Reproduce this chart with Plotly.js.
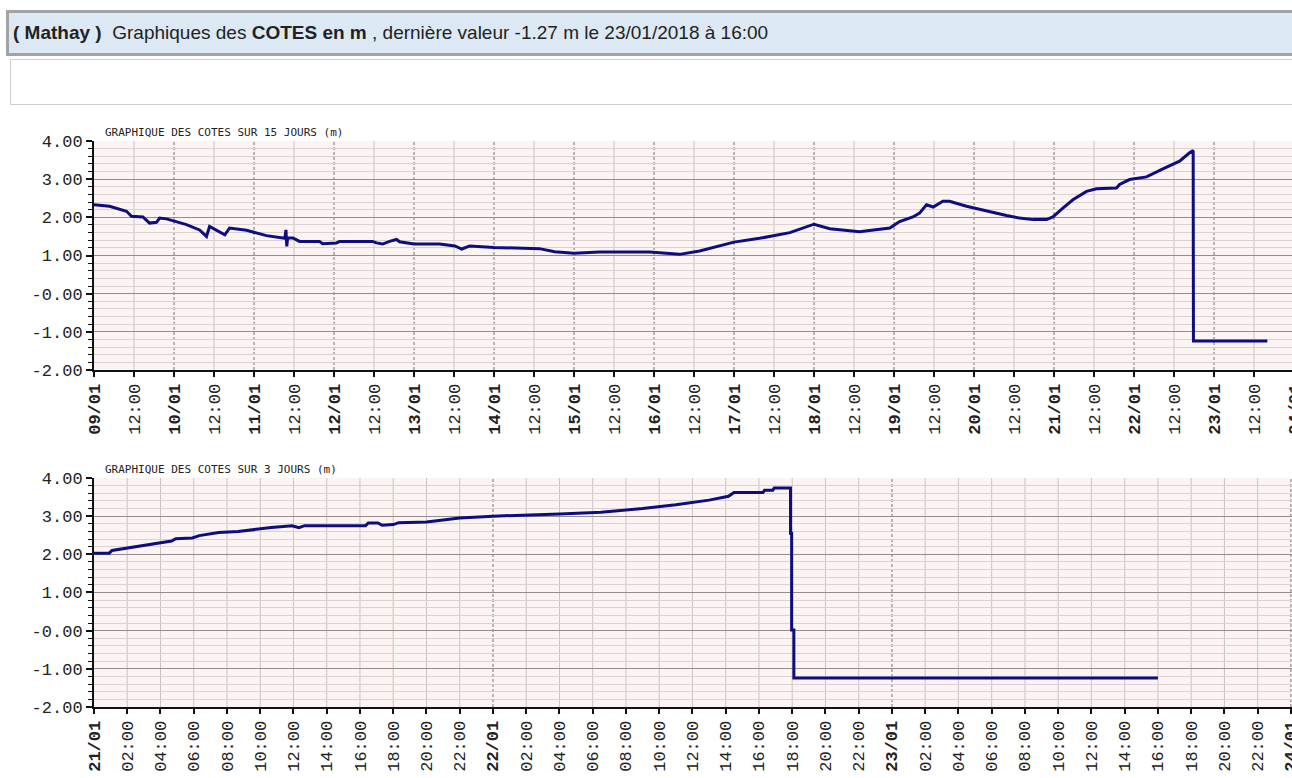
<!DOCTYPE html>
<html><head><meta charset="utf-8">
<script src="https://cdn.plot.ly/plotly-3.0.1.min.js"></script>
<style>
html,body{margin:0;padding:0;overflow:hidden;background:#fff;width:1292px;height:778px;}
#hdr{position:absolute;left:6px;top:10px;width:1330px;height:40px;background:#dce9f5;border:3px solid #a3a3a3;border-right:none;font-family:"Liberation Sans",Arial,sans-serif;font-size:19px;line-height:40px;color:#222;z-index:5;padding-left:4px;white-space:nowrap;box-sizing:content-box;}
#box{position:absolute;left:10px;top:59px;width:1330px;height:44px;border:1px solid #cfcfcf;background:#fff;z-index:5;}
#chart{position:absolute;left:0;top:0;width:1330px;height:778px;}
</style></head>
<body>
<div id="chart"></div>
<div id="hdr"><b>( Mathay )</b>&nbsp; Graphiques des <b>COTES en m</b> , dernière valeur -1.27 m le 23/01/2018 à 16:00</div>
<div id="box"></div>
<script>
// ---- data: 15-day chart ----
const dates15 = [
'2018-01-09 00:00','2018-01-09 04:40','2018-01-09 09:45','2018-01-09 11:15','2018-01-09 14:40','2018-01-09 16:40','2018-01-09 18:45','2018-01-09 19:40','2018-01-09 21:45','2018-01-09 23:40',
'2018-01-10 03:45','2018-01-10 07:40','2018-01-10 09:45','2018-01-10 10:40','2018-01-10 13:40','2018-01-10 15:15','2018-01-10 16:40','2018-01-10 21:45',
'2018-01-11 03:45','2018-01-11 07:40','2018-01-11 09:15','2018-01-11 09:35','2018-01-11 09:50','2018-01-11 10:05','2018-01-11 11:40','2018-01-11 13:40','2018-01-11 19:40','2018-01-11 20:35',
'2018-01-12 00:45','2018-01-12 01:40','2018-01-12 11:35','2018-01-12 12:45','2018-01-12 14:35','2018-01-12 16:40','2018-01-12 18:45','2018-01-12 19:40',
'2018-01-13 00:00','2018-01-13 07:40','2018-01-13 12:15','2018-01-13 14:20','2018-01-13 16:45',
'2018-01-14 00:00','2018-01-14 13:40','2018-01-14 18:10',
'2018-01-15 00:00','2018-01-15 07:40','2018-01-15 22:40',
'2018-01-16 07:40','2018-01-16 13:40',
'2018-01-17 00:00','2018-01-17 07:40','2018-01-17 16:45',
'2018-01-18 00:00','2018-01-18 04:45','2018-01-18 13:40','2018-01-18 22:45',
'2018-01-19 01:40','2018-01-19 05:40','2018-01-19 07:40','2018-01-19 09:45','2018-01-19 11:45','2018-01-19 14:40','2018-01-19 16:40','2018-01-19 21:45',
'2018-01-20 03:45','2018-01-20 09:45','2018-01-20 13:40','2018-01-20 17:40','2018-01-20 21:45','2018-01-20 23:40',
'2018-01-21 02:40','2018-01-21 05:40','2018-01-21 09:45','2018-01-21 12:45','2018-01-21 18:45','2018-01-21 19:40','2018-01-21 22:40',
'2018-01-22 03:45','2018-01-22 08:40','2018-01-22 13:40','2018-01-22 16:40','2018-01-22 17:45','2018-01-22 17:50','2018-01-23 16:00'];
const cotes15 = [
2.33,2.29,2.16,2.03,2.01,1.85,1.87,1.98,1.96,1.91,
1.81,1.67,1.50,1.76,1.63,1.54,1.72,1.66,
1.52,1.46,1.45,1.67,1.24,1.46,1.46,1.37,1.37,1.31,
1.33,1.37,1.37,1.33,1.30,1.37,1.42,1.36,
1.30,1.30,1.25,1.17,1.25,
1.21,1.18,1.10,
1.06,1.09,1.09,
1.03,1.12,
1.35,1.45,1.60,
1.82,1.70,1.62,1.72,
1.89,2.01,2.11,2.33,2.27,2.42,2.42,2.29,
2.16,2.05,1.98,1.94,1.94,2.01,
2.24,2.46,2.68,2.75,2.77,2.86,2.99,
3.06,3.27,3.47,3.69,3.75,-1.24,-1.24];

// ---- data: 3-day chart ----
const dates3 = [
'2018-01-21 00:00','2018-01-21 00:55','2018-01-21 01:05','2018-01-21 01:55','2018-01-21 02:40','2018-01-21 03:40','2018-01-21 04:40','2018-01-21 04:55','2018-01-21 05:55','2018-01-21 06:20',
'2018-01-21 07:05','2018-01-21 07:30','2018-01-21 08:40','2018-01-21 09:20','2018-01-21 10:40','2018-01-21 11:55','2018-01-21 12:20','2018-01-21 12:40','2018-01-21 16:20','2018-01-21 16:30',
'2018-01-21 17:05','2018-01-21 17:20','2018-01-21 18:00','2018-01-21 18:20','2018-01-21 20:00','2018-01-21 22:00','2018-01-22 00:00','2018-01-22 04:00','2018-01-22 06:30','2018-01-22 09:00',
'2018-01-22 11:00','2018-01-22 13:00','2018-01-22 14:10','2018-01-22 14:30','2018-01-22 16:15','2018-01-22 16:20','2018-01-22 16:50','2018-01-22 16:55','2018-01-22 17:54','2018-01-22 17:54',
'2018-01-22 17:58','2018-01-22 17:58','2018-01-22 18:06','2018-01-22 18:06','2018-01-23 16:00'];
const cotes3 = [
2.03,2.03,2.10,2.16,2.22,2.29,2.35,2.41,2.43,2.49,
2.54,2.57,2.60,2.64,2.70,2.75,2.70,2.75,2.75,2.82,
2.82,2.76,2.78,2.83,2.85,2.95,3.00,3.06,3.10,3.20,
3.30,3.42,3.52,3.62,3.62,3.68,3.68,3.74,3.74,2.55,
2.55,0.02,0.02,-1.24,-1.24];

// ---- axis labels ----
const days15 = ['2018-01-09','2018-01-10','2018-01-11','2018-01-12','2018-01-13','2018-01-14','2018-01-15','2018-01-16','2018-01-17','2018-01-18','2018-01-19','2018-01-20','2018-01-21','2018-01-22','2018-01-23','2018-01-24'];
const dayLabels15 = ['09/01','10/01','11/01','12/01','13/01','14/01','15/01','16/01','17/01','18/01','19/01','20/01','21/01','22/01','23/01','24/01'];
const hours15 = ['12:00'];
const days3 = ['2018-01-21','2018-01-22','2018-01-23','2018-01-24'];
const dayLabels3 = ['21/01','22/01','23/01','24/01'];
const hours3 = ['02:00','04:00','06:00','08:00','10:00','12:00','14:00','16:00','18:00','20:00','22:00'];
const yVals = [4,3,2,1,0,-1,-2];
const yLabels = ['4.00','3.00','2.00','1.00','-0.00','-1.00','-2.00'];
const title15 = 'GRAPHIQUE DES COTES SUR 15 JOURS (m)';
const title3 = 'GRAPHIQUE DES COTES SUR 3 JOURS (m)';

function buildTicks(days, labels, hours){
  const tv=[], tt=[], hv=[];
  days.forEach((d,i)=>{
    tv.push(d+' 00:00'); tt.push('<b>'+labels[i]+'</b>');
    if(i<days.length-1) hours.forEach(h=>{tv.push(d+' '+h); tt.push(h); hv.push(d+' '+h);});
  });
  return {tv,tt,hv};
}
const t15 = buildTicks(days15, dayLabels15, hours15);
const t3 = buildTicks(days3, dayLabels3, hours3);

const monoTick = {family:'"Liberation Mono", "DejaVu Sans Mono", monospace', size:17, color:'#222'};
const lineStyle = {color:'#0d0d80', width:3};

function yAxis(domain, anchor){
  return {domain, anchor, range:[-2,4], tickmode:'array', tickvals:yVals, ticktext:yLabels,
    showline:true, linecolor:'#111', linewidth:2, ticks:'outside', ticklen:6, tickwidth:2, tickcolor:'#111',
    showgrid:true, gridcolor:'#958c8c', gridwidth:1, zeroline:false,
    minor:{tickmode:'linear', tick0:0, dtick:0.2, showgrid:true, gridcolor:'#dcd0d0', gridwidth:1, ticks:'outside', ticklen:4, tickwidth:1, tickcolor:'#111'},
    tickfont:monoTick, fixedrange:true};
}
function xAxis(anchor, range, t){
  return {anchor, type:'date', range, tickmode:'array', tickvals:t.tv, ticktext:t.tt, tickangle:-90,
    ticks:'outside', ticklen:5, tickwidth:2, tickcolor:'#111', showline:true, linecolor:'#111', linewidth:2,
    showgrid:false, zeroline:false, tickfont:monoTick, fixedrange:true};
}

const traces = [
  {x:dates15, y:cotes15, type:'scatter', mode:'lines', line:lineStyle, xaxis:'x', yaxis:'y', hoverinfo:'skip'},
  {x:dates3, y:cotes3, type:'scatter', mode:'lines', line:lineStyle, xaxis:'x2', yaxis:'y2', hoverinfo:'skip'}
];

// vertical grid: light solid at hour ticks, dashed darker at day ticks
const shapes = [];
function vgrid(xr, yr, hv, days){
  hv.forEach(v=>shapes.push({type:'line', xref:xr, yref:yr, x0:v, x1:v, y0:0, y1:1, layer:'below', line:{color:'#cbc3c3', width:1}}));
  days.slice(1).forEach(d=>shapes.push({type:'line', xref:xr, yref:yr, x0:d, x1:d, y0:0, y1:1, layer:'below', line:{color:'#7a7272', width:1, dash:'3px,2px'}}));
}
vgrid('x', 'y domain', t15.hv, days15);
vgrid('x2', 'y2 domain', t3.hv, days3);

const titleFont = {family:'"DejaVu Sans Mono", monospace', size:11, color:'#222'};
const annotations = [
  {text:title15, xref:'paper', yref:'paper', x:0.007, y:1, xanchor:'left', yanchor:'bottom', showarrow:false, font:titleFont},
  {text:title3, xref:'paper', yref:'paper', x:0.007, y:0.4046, xanchor:'left', yanchor:'bottom', showarrow:false, font:titleFont}
];

const layout = {
  width:1330, height:778,
  margin:{l:94, r:10, t:141, b:71},
  paper_bgcolor:'#ffffff', plot_bgcolor:'#fcf4f2',
  showlegend:false,
  xaxis: xAxis('y', ['2018-01-09 00:00','2018-01-24 07:48'], t15),
  yaxis: yAxis([0.5954,1], 'x'),
  xaxis2: xAxis('y2', ['2018-01-21 00:00','2018-01-24 01:45'], t3),
  yaxis2: yAxis([0,0.4046], 'x2'),
  shapes, annotations
};
Plotly.newPlot('chart', traces, layout, {displayModeBar:false, staticPlot:true});
</script>
</body></html>
